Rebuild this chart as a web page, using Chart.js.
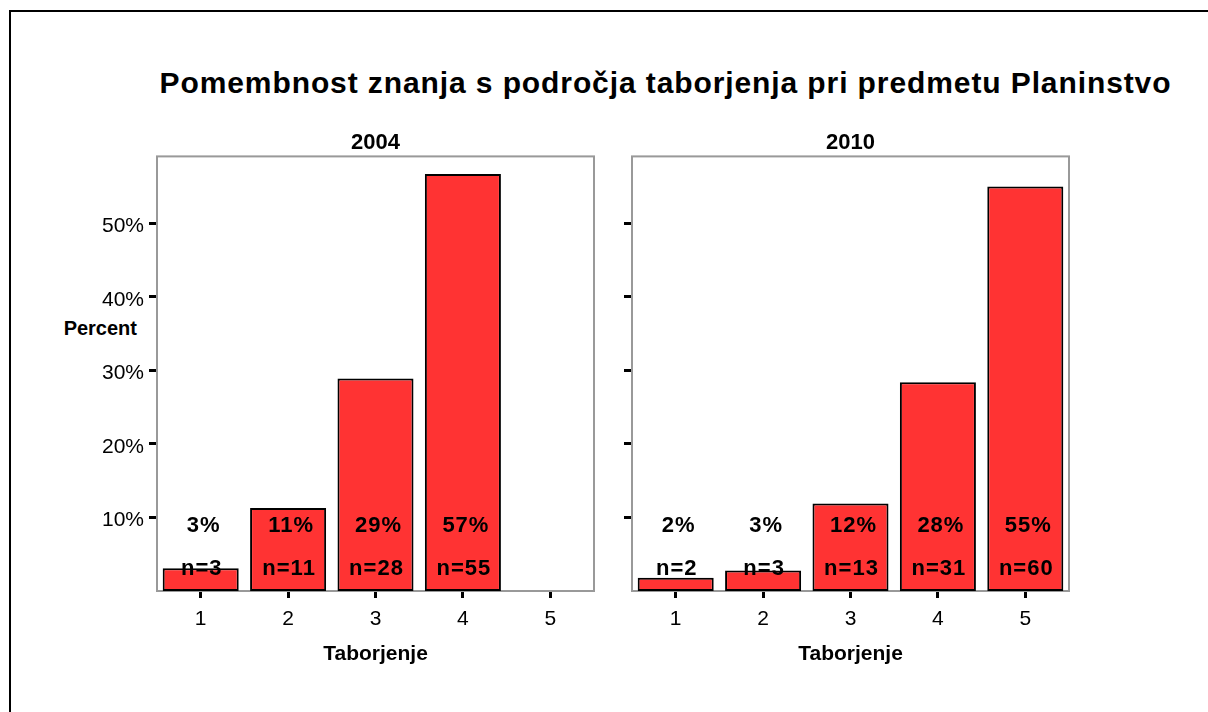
<!DOCTYPE html>
<html>
<head>
<meta charset="utf-8">
<script src="https://cdn.jsdelivr.net/npm/chart.js@4.4.1/dist/chart.umd.min.js"></script>
<style>
  html, body { margin: 0; padding: 0; background: #fff; width: 1208px; height: 712px; overflow: hidden; }
  body { position: relative; font-family: 'Liberation Sans', Arial, sans-serif; }
  #frame { position: absolute; left: 9px; top: 10px; width: 1199px; height: 702px; border-left: 2px solid #000; border-top: 2px solid #000; box-sizing: border-box; }
  #title { position: absolute; left: 148px; width: 1035px; top: 68px; line-height: 30px; font-size: 30px; font-weight: bold; letter-spacing: 0.9px; text-align: center; white-space: nowrap; color: #000; }
  #ylab { position: absolute; left: 0; width: 137px; top: 318px; line-height: 20px; font-size: 20px; font-weight: bold; text-align: right; color: #000; }
  canvas { position: absolute; }
</style>
</head>
<body>
<div id="frame"></div>
<div id="title">Pomembnost znanja s področja taborjenja pri predmetu Planinstvo</div>
<div id="ylab">Percent</div>
<canvas id="c1" width="610" height="590" style="left:0px;top:100px;width:610px;height:590px"></canvas>
<canvas id="c2" width="490" height="590" style="left:600px;top:100px;width:490px;height:590px"></canvas>
<script>
// ---- data ----
const categories = ['1', '2', '3', '4', '5'];
const panelTitles = ['2004', '2010'];
const pct2004 = [3.1, 11.3, 28.9, 56.7, null];
const n2004 = [3, 11, 28, 55, null];
const pct2010 = [1.8, 2.8, 11.9, 28.4, 55.0];
const n2010 = [2, 3, 13, 31, 60];
const yTickValues = [10, 20, 30, 40, 50];
const yTickLabels = ['10%', '20%', '30%', '40%', '50%'];
const xAxisTitle = 'Taborjenje';

const FONT = "'Liberation Sans', Arial, sans-serif";
const BAR_COLOR = '#FF3333';

const barLabels = {
  id: 'barLabels',
  afterDatasetsDraw(chart) {
    const { ctx, chartArea } = chart;
    const ds = chart.data.datasets[0];
    ctx.save();
    ctx.font = 'bold 22px ' + FONT;
    try { ctx.letterSpacing = '1px'; } catch (e) {}
    ctx.fillStyle = '#000';
    ctx.textAlign = 'center';
    ctx.textBaseline = 'middle';
    ds.data.forEach((v, i) => {
      if (v == null) return;
      const x = chart.scales.x.getPixelForValue(i);
      ctx.fillText(Math.round(v) + '%', x + 3, chartArea.bottom - 65.5);
      ctx.fillText('n=' + ds.counts[i], x + 1, chartArea.bottom - 22.5);
    });
    ctx.restore();
  }
};

const panelFrame = {
  id: 'panelFrame',
  beforeDatasetsDraw(chart) {
    const { ctx, chartArea: a } = chart;
    ctx.save();
    ctx.strokeStyle = '#999999';
    ctx.lineWidth = 2;
    ctx.strokeRect(a.left, a.top, a.right - a.left, a.bottom - a.top);
    ctx.restore();
  }
};

function makeChart(id, title, pct, counts, yWidth, padRight, showYLabels) {
  return new Chart(document.getElementById(id), {
    type: 'bar',
    data: {
      labels: categories,
      datasets: [{
        data: pct,
        counts: counts,
        backgroundColor: BAR_COLOR,
        borderColor: '#000',
        borderWidth: 2,
        borderSkipped: false,
        barPercentage: 0.87,
        categoryPercentage: 1.0
      }]
    },
    options: {
      responsive: false,
      animation: false,
      devicePixelRatio: 1,
      layout: { padding: { left: 0, right: padRight, top: 0, bottom: 0 } },
      plugins: {
        legend: { display: false },
        tooltip: { enabled: false },
        title: {
          display: true,
          text: title,
          fullSize: false,
          color: '#000',
          font: { family: FONT, size: 22, weight: 'bold', lineHeight: 1.2 },
          padding: { top: 30, bottom: 0 }
        }
      },
      scales: {
        x: {
          offset: true,
          grid: { display: true, offset: false, drawOnChartArea: false, drawTicks: true, tickLength: 7, tickWidth: 3, tickColor: '#000' },
          border: { display: false },
          ticks: { color: '#000', padding: 9, font: { family: FONT, size: 21 }, maxRotation: 0 },
          title: { display: true, text: xAxisTitle, color: '#000', font: { family: FONT, size: 21, weight: 'bold', lineHeight: 1.2 }, padding: { top: 0, bottom: 23 } },
          afterFit(s) { s.height = 99; }
        },
        y: {
          min: 0,
          max: 59.1,
          grid: { display: true, drawOnChartArea: false, drawTicks: true, tickLength: 8, tickWidth: 3, tickColor: '#000' },
          border: { display: false },
          ticks: {
            display: showYLabels,
            color: '#000',
            padding: 5,
            labelOffset: 3,
            font: { family: FONT, size: 21 },
            callback: (v) => yTickLabels[yTickValues.indexOf(v)] || ''
          },
          afterBuildTicks(s) { s.ticks = yTickValues.map(v => ({ value: v })); },
          afterFit(s) { s.width = yWidth; }
        }
      }
    },
    plugins: [panelFrame, barLabels]
  });
}

makeChart('c1', panelTitles[0], pct2004, n2004, 157, 16, true);
makeChart('c2', panelTitles[1], pct2010, n2010, 32, 21, false);
</script>
</body>
</html>
